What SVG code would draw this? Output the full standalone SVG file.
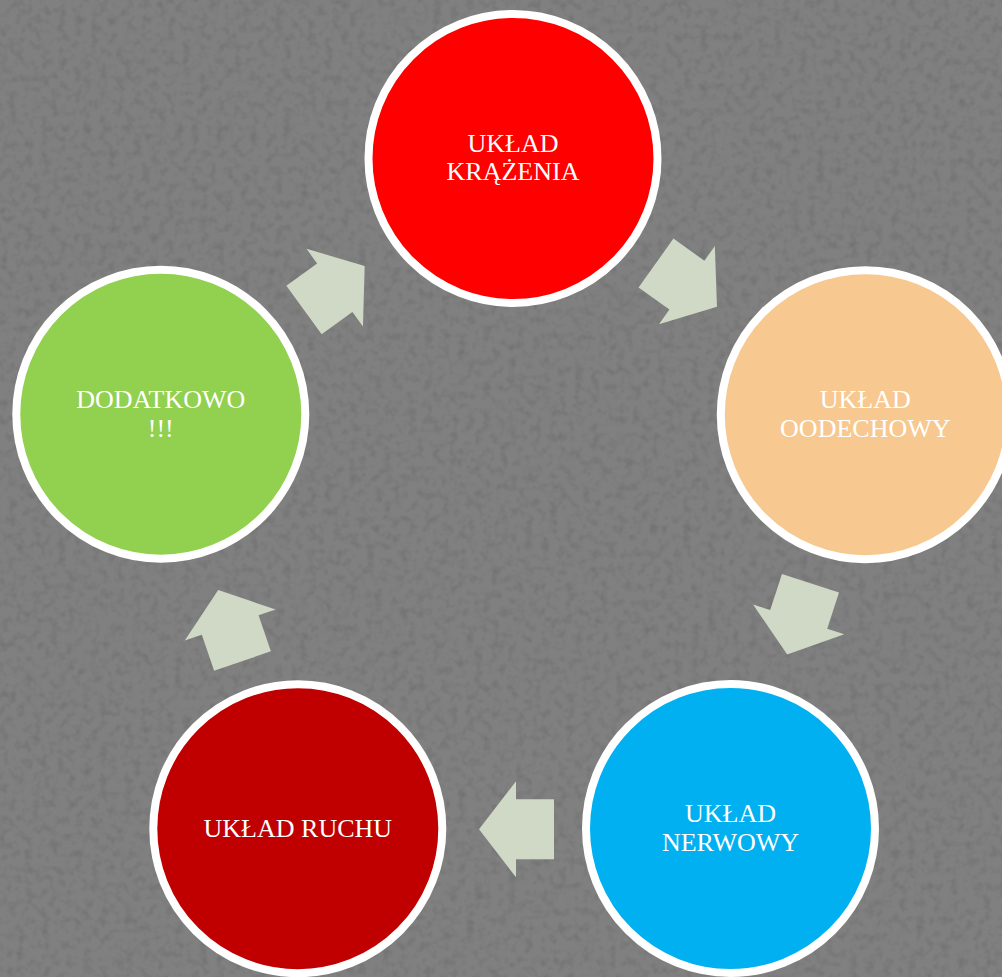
<svg xmlns="http://www.w3.org/2000/svg" xmlns:xlink="http://www.w3.org/1999/xlink" width="1002" height="977" viewBox="0 0 1002 977">
  <defs>
    <filter id="grain" x="0" y="0" width="100%" height="100%">
      <feTurbulence type="fractalNoise" baseFrequency="0.12" numOctaves="2" seed="4" result="n"/>
      <feColorMatrix in="n" type="matrix" values="0 0 0 0 0  0 0 0 0 0  0 0 0 0 0  0 0 0 0.9 -0.4" result="a"/>
      <feComposite in="a" in2="SourceGraphic" operator="in"/>
    </filter>
    <path id="arrow" d="M0,-30 H38 V-48 L75,0 L38,48 V30 H0 Z"/>
    <style>
      .bg { fill: #808080; }
      .node circle { stroke: #ffffff; stroke-width: 8; }
      .node text { font-family: "Liberation Serif", "DejaVu Serif", serif; font-size: 26px; fill: #ffffff; text-anchor: middle; }
      .conn use { fill: #cfd9c6; }
    </style>
  </defs>

  <rect class="bg" x="0" y="0" width="1002" height="977"/>
  <rect x="0" y="0" width="1002" height="977" fill="#6e6e6e" filter="url(#grain)" opacity="0.25"/>

  <g id="connectors" class="conn">
    <use xlink:href="#arrow" transform="translate(304,310) rotate(-36)"/>
    <use xlink:href="#arrow" transform="translate(656,263) rotate(35.6)"/>
    <use xlink:href="#arrow" transform="translate(810.5,583.3) rotate(108.1)"/>
    <use xlink:href="#arrow" transform="translate(554,829.3) rotate(180)"/>
    <use xlink:href="#arrow" transform="translate(242.5,661) rotate(251.1)"/>
  </g>

  <g id="node-krazenia" class="node">
    <circle cx="513" cy="158.5" r="144.5" fill="#ff0000"/>
    <text x="513" y="152">UKŁAD</text>
    <text x="513" y="180">KRĄŻENIA</text>
  </g>

  <g id="node-oddechowy" class="node">
    <circle cx="865.3" cy="414.7" r="144.5" fill="#f7c990"/>
    <text x="865.3" y="407.7">UKŁAD</text>
    <text x="865.3" y="436.7">OODECHOWY</text>
  </g>

  <g id="node-nerwowy" class="node">
    <circle cx="730.5" cy="828.5" r="144.5" fill="#00b0f0"/>
    <text x="730.5" y="821.7">UKŁAD</text>
    <text x="730.5" y="851">NERWOWY</text>
  </g>

  <g id="node-ruchu" class="node">
    <circle cx="297.8" cy="828.7" r="144.5" fill="#c00000"/>
    <text x="297.8" y="836.7">UKŁAD RUCHU</text>
  </g>

  <g id="node-dodatkowo" class="node">
    <circle cx="160.8" cy="414.2" r="144.5" fill="#92d050"/>
    <text x="160.8" y="407.7">DODATKOWO</text>
    <text x="160.8" y="436.7">!!!</text>
  </g>
</svg>
